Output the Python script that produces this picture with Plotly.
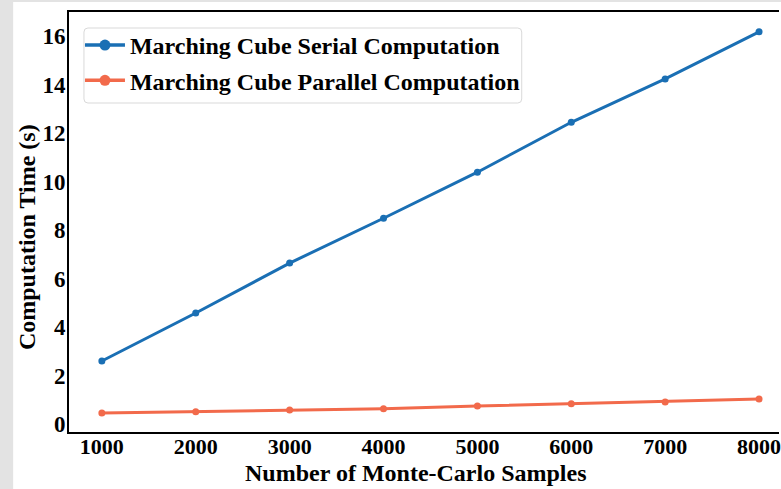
import plotly.graph_objects as go

samples = [1000, 2000, 3000, 4000, 5000, 6000, 7000, 8000]
serial_time = [2.60, 4.58, 6.64, 8.49, 10.39, 12.45, 14.24, 16.18]
parallel_time = [0.45, 0.51, 0.58, 0.63, 0.74, 0.84, 0.91, 1.03]
y_ticks = [0, 2, 4, 6, 8, 10, 12, 14, 16]
x_ticks = samples
series_names = ["Marching Cube Serial Computation", "Marching Cube Parallel Computation"]

FONT = "Liberation Serif"
BLUE = "#1a6fb4"
ORANGE = "#f26a4b"

fig = go.Figure()
for name, vals, col, grp in [(series_names[0], serial_time, BLUE, "a"),
                             (series_names[1], parallel_time, ORANGE, "b")]:
    fig.add_trace(go.Scatter(
        x=samples, y=vals, mode="lines+markers", name=name,
        line=dict(color=col, width=3), marker=dict(color=col, size=7),
        showlegend=False, legendgroup=grp))
    # legend entry with the larger legend marker
    fig.add_trace(go.Scatter(
        x=[None], y=[None], mode="lines+markers", name=f"<b>{name}</b>",
        line=dict(color=col, width=3.5), marker=dict(color=col, size=11),
        legendgroup=grp))

W, H = 781, 489
L, T, B = 69, 12, 57
pw = W - L
ph = H - T - B


def px_x(p):
    return (p - L) / pw


def px_y(p):
    return (H - B - p) / ph


# rounded legend frame
x0, x1, y0, y1, r = px_x(84), px_x(523), px_y(103), px_y(28), 4
rx, ry = r / pw, r / ph
frame_path = (f"M{x0 + rx},{y1} L{x1 - rx},{y1} Q{x1},{y1} {x1},{y1 - ry} "
              f"L{x1},{y0 + ry} Q{x1},{y0} {x1 - rx},{y0} L{x0 + rx},{y0} "
              f"Q{x0},{y0} {x0},{y0 + ry} L{x0},{y1 - ry} Q{x0},{y1} {x0 + rx},{y1} Z")

fig.update_layout(
    width=W, height=H,
    margin=dict(l=L, r=0, t=T, b=B, pad=0),
    paper_bgcolor="#e3e3e3",
    plot_bgcolor="white",
    font=dict(family=FONT, size=22, color="black"),
    showlegend=True,
    legend=dict(
        x=px_x(80), y=px_y(23), xanchor="left", yanchor="top",
        bgcolor="rgba(0,0,0,0)", borderwidth=0,
        font=dict(family=FONT, size=24, color="black"),
        traceorder="grouped", tracegroupgap=1, itemwidth=40,
    ),
    xaxis=dict(
        range=[650, 1000 + (W - 102) / (761 - 102) * 7000],
        tickmode="array", tickvals=x_ticks,
        ticktext=[f"<b>{v}</b>" for v in x_ticks],
        showgrid=False, zeroline=False,
        showline=True, linecolor="black", linewidth=2, mirror=True,
        ticks="", tickfont=dict(family=FONT, size=22),
        ticklabelstandoff=-6, ticklabeloverflow="allow",
    ),
    yaxis=dict(
        range=[-0.33, 17.0],
        tickmode="array", tickvals=y_ticks,
        ticktext=[f"<b>{v}</b>" for v in y_ticks],
        showgrid=False, zeroline=False,
        showline=True, linecolor="black", linewidth=2, mirror=False,
        ticks="", tickfont=dict(family=FONT, size=23),
        ticklabelstandoff=-3,
    ),
    shapes=[
        dict(type="rect", xref="paper", yref="paper",
             x0=px_x(13), x1=1.2, y0=-0.3, y1=px_y(2),
             fillcolor="white", line=dict(width=0), layer="below"),
        dict(type="path", xref="paper", yref="paper", path=frame_path,
             fillcolor="white", line=dict(color="#d9d9d9", width=1), layer="below"),
    ],
    annotations=[
        dict(text="<b>Number of Monte-Carlo Samples</b>", xref="paper", yref="paper",
             x=px_x(417), y=px_y(473), showarrow=False,
             xanchor="center", yanchor="middle",
             font=dict(family=FONT, size=24)),
        dict(text="<b>Computation Time (s)</b>", xref="paper", yref="paper",
             x=px_x(27), y=px_y(237), showarrow=False, textangle=-90,
             xanchor="center", yanchor="middle",
             font=dict(family=FONT, size=24)),
    ],
)

fig.write_html("out.html")
